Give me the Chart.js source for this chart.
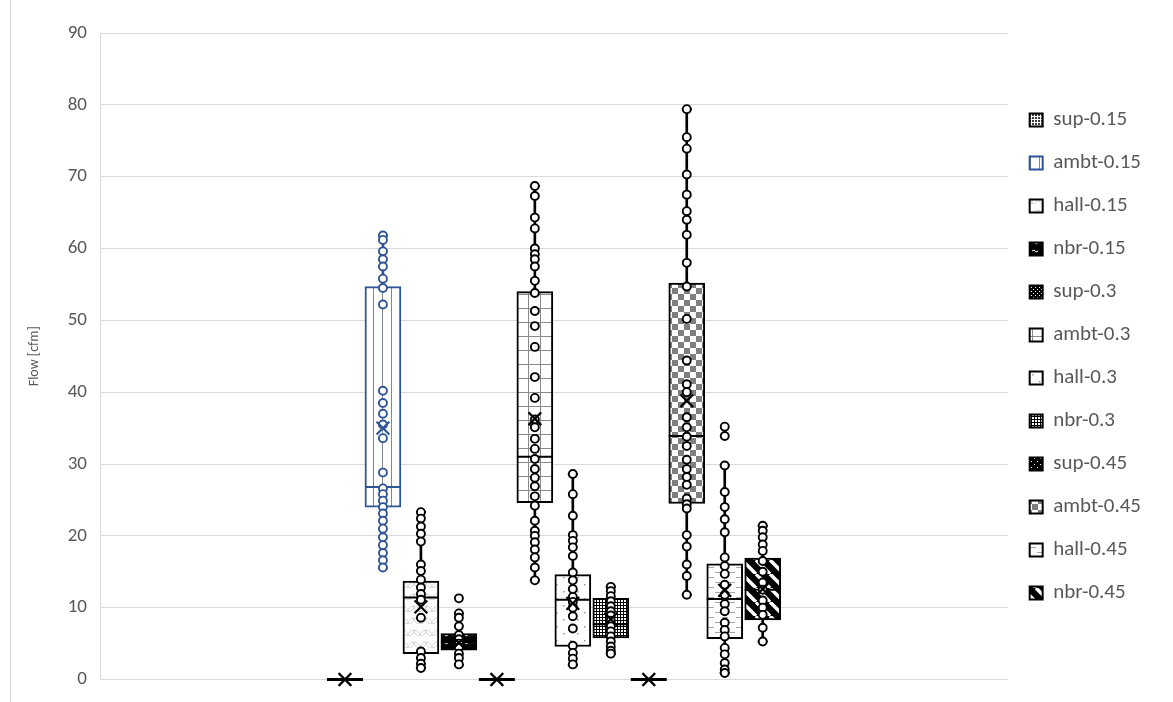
<!DOCTYPE html>
<html>
<head>
<meta charset="utf-8">
<title>Flow box plot</title>
<script src="https://cdn.jsdelivr.net/npm/chart.js@4.4.1/dist/chart.umd.min.js"></script>
<style>
    html, body { margin: 0; padding: 0; background: #fff; }
    #wrap { position: relative; width: 1173px; height: 702px; }
    #frame { position: absolute; left: 10px; top: 0; height: 702px; border-left: 1px solid #d9d9d9; }
</style>
</head>
<body>
<div id="wrap">
    <div id="frame"></div>
    <canvas id="flowChart" width="1173" height="702"></canvas>
</div>
<script>
// series (one box each)
var seriesNames = ["sup-0.15", "ambt-0.15", "hall-0.15", "nbr-0.15", "sup-0.3", "ambt-0.3", "hall-0.3", "nbr-0.3", "sup-0.45", "ambt-0.45", "hall-0.45", "nbr-0.45"]

// box statistics
var q1Values = [0, 24.0, 3.6, 4.1, 0, 24.6, 4.6, 5.8, 0, 24.5, 5.7, 8.3]
var medianValues = [0, 26.8, 11.4, 5.2, 0, 31.0, 11.1, 7.7, 0, 33.9, 11.2, 12.5]
var q3Values = [0, 54.7, 13.7, 6.4, 0, 54.0, 14.6, 11.3, 0, 55.2, 16.1, 16.9]
var meanValues = [0, 35.0, 10.1, 5.1, 0, 36.3, 10.6, 8.4, 0, 38.8, 12.4, 12.6]
var lowValues = [0, 15.5, 1.6, 2.0, 0, 13.8, 2.0, 3.6, 0, 11.8, 0.9, 5.3]
var highValues = [0, 61.8, 23.3, 9.2, 0, 68.7, 28.6, 12.9, 0, 79.4, 29.8, 21.4]

// individual points
var ptsSup015 = []
var ptsAmbt015 = [61.8, 61.2, 59.6, 58.5, 57.5, 55.8, 54.5, 52.2, 40.2, 38.5, 37.0, 35.5, 33.6, 28.8, 26.6, 25.8, 24.9, 24.0, 23.1, 22.1, 21.0, 19.8, 18.7, 17.6, 16.6, 15.6]
var ptsHall015 = [23.3, 22.4, 21.3, 20.3, 19.2, 16.0, 15.1, 13.9, 12.8, 11.9, 11.1, 8.6, 3.9, 3.0, 2.2, 1.6]
var ptsNbr015 = [11.3, 9.2, 8.6, 7.4, 6.2, 5.6, 5.0, 4.5, 3.6, 3.0, 2.1]
var ptsSup03 = []
var ptsAmbt03 = [68.7, 67.3, 64.3, 62.8, 60.0, 59.2, 58.5, 57.5, 55.5, 53.8, 51.3, 49.2, 46.3, 42.1, 39.2, 36.2, 35.1, 33.5, 32.1, 30.7, 29.3, 28.1, 26.9, 25.5, 24.2, 22.1, 20.7, 20.0, 19.1, 18.1, 17.0, 15.6, 13.8]
var ptsHall03 = [28.6, 25.8, 22.8, 20.1, 19.3, 18.4, 17.2, 14.9, 13.8, 12.6, 11.5, 10.8, 10.0, 8.8, 7.1, 4.7, 3.7, 2.9, 2.1]
var ptsNbr03 = [12.9, 12.3, 11.6, 10.9, 10.2, 9.5, 8.9, 8.2, 7.4, 6.7, 6.0, 5.3, 4.6, 4.0, 3.6]
var ptsSup045 = []
var ptsAmbt045 = [79.4, 75.5, 73.9, 70.3, 67.5, 65.2, 64.0, 61.9, 58.0, 54.7, 50.2, 44.4, 41.1, 40.0, 36.5, 35.1, 33.8, 32.5, 30.6, 29.3, 28.2, 27.1, 25.2, 24.4, 23.8, 20.1, 18.5, 16.0, 14.4, 11.8]
var ptsHall045 = [35.2, 33.9, 29.8, 26.1, 24.0, 22.3, 20.5, 17.0, 15.8, 14.7, 13.2, 11.8, 10.5, 9.5, 7.9, 6.9, 6.0, 4.4, 3.5, 2.3, 1.4, 0.9]
var ptsNbr045 = [21.4, 20.7, 19.8, 18.8, 17.9, 16.5, 15.0, 13.5, 12.5, 11.0, 10.0, 9.0, 7.2, 5.3]

var pointLists = [ptsSup015, ptsAmbt015, ptsHall015, ptsNbr015, ptsSup03, ptsAmbt03, ptsHall03, ptsNbr03, ptsSup045, ptsAmbt045, ptsHall045, ptsNbr045]

var yMin = 0
var yMax = 90
var yStep = 10

var FONT = "Calibri, Carlito, Lato, sans-serif"
var TEXT = "#595959"
var GRID = "#d9d9d9"
var BLUE = "#2f5597"
var seriesColors = ["#000", BLUE, "#000", "#000", "#000", "#000", "#000", "#000", "#000", "#000", "#000", "#000"]

// pattern fills
function makePattern(w, h, bg, draw) {
    var c = document.createElement("canvas")
    c.width = w
    c.height = h
    var g = c.getContext("2d")
    g.fillStyle = bg
    g.fillRect(0, 0, w, h)
    draw(g)
    return g.createPattern(c, "repeat")
}

var patterns = [
    makePattern(3, 3, "#fff", function (g) { g.fillStyle = "#3a3a3a"; g.fillRect(0, 0, 2, 2) }),
    makePattern(9, 4, "#fff", function (g) { g.fillStyle = "#7f8796"; g.fillRect(4, 0, 1, 4) }),
    makePattern(12, 12, "#fff", function (g) {
        g.strokeStyle = "#c4c4c4"; g.lineWidth = 0.7
        g.beginPath(); g.arc(0, 6, 6, 0, Math.PI); g.stroke()
        g.beginPath(); g.arc(12, 6, 6, 0, Math.PI); g.stroke()
        g.beginPath(); g.arc(6, 12, 6, Math.PI, 2 * Math.PI); g.stroke()
    }),
    makePattern(10, 8, "#000", function (g) {
        g.strokeStyle = "#fff"; g.lineWidth = 1
        g.beginPath(); g.moveTo(2, 3); g.lineTo(4, 2); g.lineTo(6, 4); g.lineTo(8, 3); g.stroke()
    }),
    makePattern(4, 4, "#000", function (g) { g.fillStyle = "#fff"; g.fillRect(1, 1, 1, 1); g.fillRect(3, 3, 1, 1) }),
    makePattern(12, 14, "#fff", function (g) { g.fillStyle = "#8a8a8a"; g.fillRect(0, 0, 1, 14); g.fillRect(0, 0, 12, 1) }),
    makePattern(14, 14, "#fff", function (g) { g.fillStyle = "#9a9a9a"; g.fillRect(3, 3, 1.5, 1.5); g.fillRect(10, 10, 1.5, 1.5) }),
    makePattern(3, 3, "#000", function (g) { g.fillStyle = "#fff"; g.fillRect(0, 0, 2, 2) }),
    makePattern(6, 6, "#000", function (g) { g.fillStyle = "#fff"; g.fillRect(2, 2, 1, 1); g.fillRect(5, 5, 1, 1) }),
    makePattern(12, 12, "#fff", function (g) { g.fillStyle = "#7f7f7f"; g.fillRect(0, 0, 6, 6); g.fillRect(6, 6, 6, 6) }),
    makePattern(14, 10, "#fff", function (g) { g.fillStyle = "#a6a6a6"; g.fillRect(1, 2, 6, 1); g.fillRect(8, 7, 6, 1) }),
    makePattern(14, 14, "#000", function (g) {
        g.strokeStyle = "#fff"; g.lineWidth = 3.5
        ;[-14, 0, 14].forEach(function (o) { g.beginPath(); g.moveTo(o, 0); g.lineTo(o + 14, 14); g.stroke() })
    }),
]

// datasets
var boxSets = seriesNames.map(function (name, i) {
    return {
        type: "bar",
        label: name,
        data: [{ x: i, y: [q1Values[i], q3Values[i]] }],
        backgroundColor: patterns[i],
        borderColor: seriesColors[i],
        borderWidth: 2,
        borderSkipped: false,
        grouped: false,
        categoryPercentage: 1,
        barPercentage: 1,
        maxBarThickness: 36,
        order: 4,
    }
})

var whiskerSet = {
    type: "bar",
    label: "whisker",
    data: seriesNames.map(function (n, i) { return { x: i, y: [lowValues[i], highValues[i]] } }),
    backgroundColor: seriesColors,
    borderWidth: 0,
    grouped: false,
    categoryPercentage: 1,
    barPercentage: 1,
    maxBarThickness: 2,
    order: 5,
}

var capData = []
var capColors = []
seriesNames.forEach(function (n, i) {
    capData.push({ x: i, y: lowValues[i] }, { x: i, y: highValues[i] })
    capColors.push(seriesColors[i], seriesColors[i])
})

var pointData = []
var pointColors = []
pointLists.forEach(function (list, i) {
    list.forEach(function (v) {
        pointData.push({ x: i, y: v })
        pointColors.push(seriesColors[i])
    })
})

var markerSets = [
    {
        type: "line", label: "cap", data: capData, showLine: false, clip: false, order: 2,
        pointStyle: "line", pointRadius: 5, pointBorderWidth: 2, pointBorderColor: capColors,
    },
    {
        type: "line", label: "median", showLine: false, clip: false, order: 3,
        data: medianValues.map(function (v, i) { return { x: i, y: v } }),
        pointStyle: "line", pointRadius: 18, pointBorderColor: seriesColors,
        pointBorderWidth: q1Values.map(function (v, i) { return q3Values[i] === v ? 3 : 2 }),
    },
    {
        type: "line", label: "points", data: pointData, showLine: false, clip: false, order: 1,
        pointStyle: "circle", pointRadius: 4, pointBorderWidth: 1.9,
        pointBackgroundColor: "#fff", pointBorderColor: pointColors,
    },
    {
        type: "line", label: "mean", showLine: false, clip: false, order: 0,
        data: meanValues.map(function (v, i) { return { x: i, y: v } }),
        pointStyle: "crossRot", pointRadius: 9, pointBorderWidth: 2.2, pointBorderColor: seriesColors,
    },
]

new Chart("flowChart", {
    type: "bar",
    data: {
        datasets: boxSets.concat([whiskerSet]).concat(markerSets),
    },
    options: {
        responsive: false,
        devicePixelRatio: 1,
        animation: false,
        events: [],
        layout: { padding: { left: 10, top: 33, bottom: 22, right: 22 } },
        plugins: {
            tooltip: { enabled: false },
            legend: {
                position: "right",
                labels: {
                    boxWidth: 13,
                    boxHeight: 13,
                    padding: 22,
                    color: TEXT,
                    font: { family: FONT, size: 21 },
                    filter: function (item) { return item.datasetIndex < seriesNames.length },
                },
            },
        },
        scales: {
            x: {
                type: "linear",
                min: -6.45,
                max: 17.45,
                offset: false,
                display: false,
                grid: { offset: false },
                ticks: { stepSize: 1, includeBounds: false },
            },
            y: {
                min: yMin,
                max: yMax,
                ticks: { stepSize: yStep, padding: 13, color: TEXT, font: { family: FONT, size: 19, lineHeight: 1 } },
                grid: { color: GRID, drawTicks: false },
                border: { color: GRID },
                title: {
                    display: true,
                    text: "Flow [cfm]",
                    color: TEXT,
                    font: { family: FONT, size: 14 },
                    padding: { top: 16, bottom: 0 },
                },
                afterFit: function (scale) { scale.width = 90 },
            },
        },
    },
})
</script>
</body>
</html>
